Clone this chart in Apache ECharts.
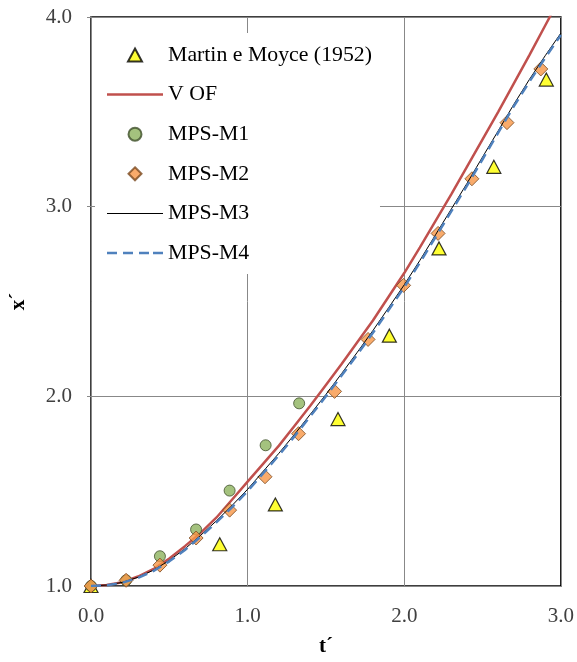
<!DOCTYPE html>
<html>
<head>
<meta charset="utf-8">
<script src="https://cdn.jsdelivr.net/npm/echarts@6/dist/echarts.min.js"></script>
<style>
  html, body { margin: 0; padding: 0; background: #fff; }
  #chart { width: 577px; height: 662px; }
</style>
</head>
<body>
<div id="chart"></div>
<script>
// Experimental front positions (Martin & Moyce, 1952)
const expT = [0, 0.822, 1.177, 1.577, 1.905, 2.222, 2.572, 2.907];
const expX = [1.0, 1.22, 1.43, 1.88, 2.32, 2.78, 3.21, 3.67];

// MPS-M1 points
const m1T = [0, 0.224, 0.44, 0.671, 0.885, 1.115, 1.329];
const m1X = [1.0, 1.03, 1.157, 1.298, 1.503, 1.742, 1.963];

// MPS-M2 points
const m2T = [0, 0.224, 0.44, 0.671, 0.885, 1.111, 1.325, 1.555, 1.769, 1.996, 2.216, 2.432, 2.656, 2.872];
const m2X = [1.0, 1.03, 1.11, 1.253, 1.40, 1.576, 1.803, 2.026, 2.30, 2.585, 2.859, 3.147, 3.443, 3.726];

// Continuous curves sampled every 0.1 in t´
const curveT = [0, 0.1, 0.2, 0.3, 0.4, 0.5, 0.6, 0.7, 0.8, 0.9, 1.0, 1.1, 1.2, 1.3, 1.4, 1.5, 1.6, 1.7, 1.8, 1.9, 2.0,
                2.1, 2.2, 2.3, 2.4, 2.5, 2.6, 2.7, 2.8, 2.9, 3.0];
const vofX = [1.0, 1.005, 1.02, 1.05, 1.09, 1.145, 1.21, 1.28, 1.36, 1.455, 1.55, 1.645, 1.74, 1.845, 1.95, 2.06, 2.17,
              2.285, 2.40, 2.525, 2.65, 2.785, 2.925, 3.065, 3.21, 3.355, 3.50, 3.65, 3.80, 3.955, 4.11];
const m3X  = [1.0, 1.005, 1.019, 1.046, 1.084, 1.135, 1.196, 1.267, 1.343, 1.424, 1.51, 1.605, 1.70, 1.80, 1.905, 2.01,
              2.12, 2.232, 2.347, 2.467, 2.588, 2.717, 2.852, 2.987, 3.122, 3.262, 3.40, 3.54, 3.672, 3.796, 3.915];
const m4X  = [1.0, 1.004, 1.017, 1.043, 1.08, 1.13, 1.19, 1.26, 1.335, 1.415, 1.50, 1.595, 1.69, 1.79, 1.895, 2.0,
              2.11, 2.22, 2.335, 2.455, 2.575, 2.705, 2.84, 2.975, 3.11, 3.25, 3.39, 3.53, 3.66, 3.785, 3.905];

// Axis ticks
const xTicks = [0, 1, 2, 3];
const yTicks = [1, 2, 3, 4];

const pair = (ts, xs) => ts.map((t, i) => [t, xs[i]]);
const serif = '"Liberation Serif", "Times New Roman", serif';

// Legend glyphs: marker shapes kept at their own proportions, plus solid / dashed strokes
const triIcon = 'path://M7,0L14,13L0,13Z';
const diamondIcon = 'path://M7,0L14,7L7,14L0,7Z';
const solidIcon = 'path://M0,0h56v2.5h-56z';
const thinIcon = 'path://M0,0h56v1h-56z';
const dashIcon = 'path://M0,0h10v2.5h-10z M16,0h10v2.5h-10z M32,0h10v2.5h-10z M46,0h10v2.5h-10z';

const chart = echarts.init(document.getElementById('chart'), null, { renderer: 'canvas' });
chart.setOption({
  backgroundColor: '#fff',
  animation: false,
  textStyle: { fontFamily: serif },
  grid: {
    left: 86, right: 14, top: 17, bottom: 72,
    show: true, borderColor: '#000', borderWidth: 1.5, backgroundColor: 'transparent'
  },
  xAxis: {
    type: 'value', min: xTicks[0], max: xTicks[xTicks.length - 1], interval: 1,
    name: 't´', nameLocation: 'middle', nameGap: 50,
    nameTextStyle: { fontFamily: serif, fontSize: 21, fontWeight: 'bold', color: '#000' },
    axisLine: { show: true, lineStyle: { color: '#888', width: 1 } },
    axisTick: { show: false },
    axisLabel: { fontFamily: serif, fontSize: 21, color: '#404040', margin: 20, formatter: v => v.toFixed(1) },
    splitLine: { show: true, lineStyle: { color: '#888', width: 1 } }
  },
  yAxis: {
    type: 'value', min: yTicks[0], max: yTicks[yTicks.length - 1], interval: 1,
    name: 'x´', nameLocation: 'middle', nameGap: 62, nameRotate: 90,
    nameTextStyle: { fontFamily: serif, fontSize: 21, fontWeight: 'bold', color: '#000' },
    axisLine: { show: true, lineStyle: { color: '#888', width: 1 } },
    axisTick: { show: true, inside: false, length: 4, lineStyle: { color: '#888' } },
    axisLabel: { fontFamily: serif, fontSize: 21, color: '#404040', margin: 19, formatter: v => v.toFixed(1) },
    splitLine: { show: true, lineStyle: { color: '#888', width: 1 } }
  },
  legend: {
    orient: 'vertical', left: 95, top: 33,
    backgroundColor: '#fff', padding: [11, 8, 10, 12],
    itemWidth: 56, itemHeight: 13, itemGap: 17.6,
    symbolKeepAspect: true,
    textStyle: { fontFamily: serif, fontSize: 21.8, color: '#000', lineHeight: 22 },
    data: [
      { name: 'Martin e Moyce (1952)', icon: triIcon },
      { name: 'V OF', icon: solidIcon },
      { name: 'MPS-M1', icon: 'circle' },
      { name: 'MPS-M2', icon: diamondIcon },
      { name: 'MPS-M3', icon: thinIcon },
      { name: 'MPS-M4', icon: dashIcon }
    ]
  },
  series: [
    {
      name: 'Martin e Moyce (1952)', type: 'scatter', data: pair(expT, expX),
      symbol: 'triangle', symbolSize: [14, 13],
      itemStyle: { color: '#FFFF00', borderColor: '#000', borderWidth: 1.2 }, z: 3
    },
    {
      name: 'V OF', type: 'line', data: pair(curveT, vofX), symbol: 'none', clip: true,
      lineStyle: { color: '#C0504D', width: 2.5 }, itemStyle: { color: '#C0504D' }, z: 4
    },
    {
      name: 'MPS-M1', type: 'scatter', data: pair(m1T, m1X),
      symbol: 'circle', symbolSize: 11,
      itemStyle: { color: '#8DB35E', borderColor: '#3F4F2A', borderWidth: 1 }, z: 5
    },
    {
      name: 'MPS-M2', type: 'scatter', data: pair(m2T, m2X),
      symbol: 'diamond', symbolSize: 14,
      itemStyle: { color: '#F79646', borderColor: '#7A4A20', borderWidth: 1 }, z: 6
    },
    {
      name: 'MPS-M3', type: 'line', data: pair(curveT, m3X), symbol: 'none',
      lineStyle: { color: '#000', width: 1 }, itemStyle: { color: '#000' }, z: 7
    },
    {
      name: 'MPS-M4', type: 'line', data: pair(curveT, m4X), symbol: 'none',
      lineStyle: { color: '#4F81BD', width: 2.5, type: [10, 6] }, itemStyle: { color: '#4F81BD' }, z: 8
    }
  ]
});
</script>
</body>
</html>
